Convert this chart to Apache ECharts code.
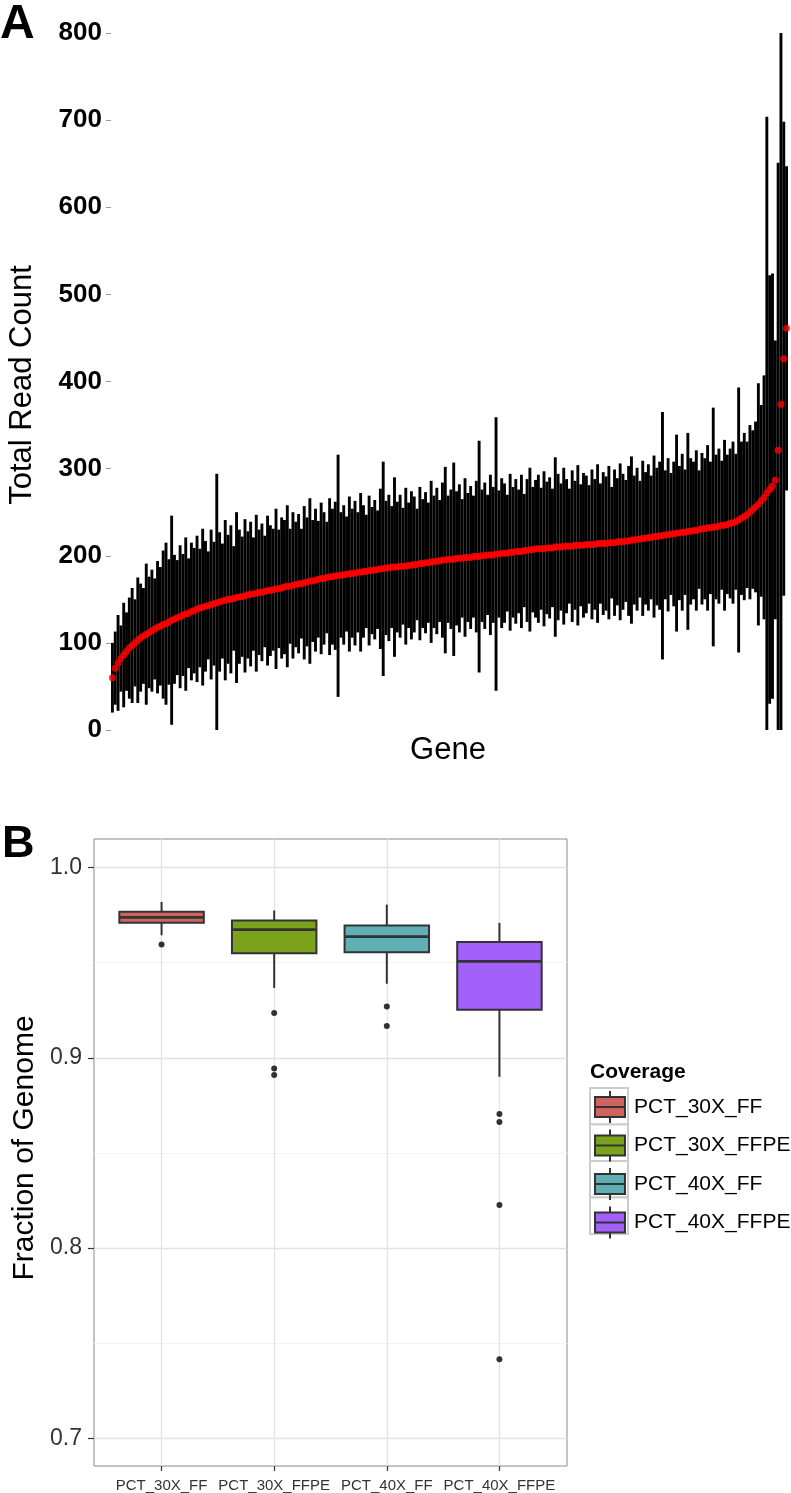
<!DOCTYPE html>
<html><head><meta charset="utf-8">
<script src="https://cdn.jsdelivr.net/npm/echarts@6/dist/echarts.min.js"></script>
<style>html,body{margin:0;padding:0;background:#fff}#c{width:791px;height:1493px}</style>
</head><body><div id="c"></div>
<script>
// ---------- Panel A data (genes sorted by mean total read count) ----------
const geneMeans = [
 60,71,77,82,86,90,94,97,100,103,106,
 108,110,112,114,116,118,119,121,122,124,
 126,127,129,130,132,133,134,136,137,139,
 140,141,142,143,144,145,146,147,148,149,
 150,150,151,152,153,153,154,155,156,156,
 157,158,158,159,160,160,161,162,162,163,
 164,165,165,166,167,168,168,169,170,171,
 171,172,173,174,174,175,176,176,177,177,
 178,178,179,179,180,180,181,181,182,182,
 183,183,184,184,185,185,186,186,187,187,
 187,188,188,188,189,189,190,190,191,191,
 192,192,193,193,194,194,195,195,196,196,
 196,197,197,197,198,198,198,199,199,199,
 200,200,201,201,201,202,202,203,203,203,
 204,204,205,205,205,206,206,207,207,208,
 208,208,208,209,209,209,210,210,210,211,
 211,211,211,212,212,212,212,213,213,213,
 213,214,214,214,214,215,215,215,216,216,
 216,217,217,218,218,219,219,220,220,221,
 221,222,222,223,223,224,224,225,225,226,
 226,227,227,228,228,229,229,230,231,231,
 232,232,233,233,234,235,235,236,237,238,
 239,241,243,245,247,250,253,256,259,263,267,
 272,276,280,287,321,374,426,461
];
const geneErrs = [
 40,42,55,38,60,45,58,66,50,72,62,
 55,81,64,70,58,76,68,85,93,72,
 120,74,66,82,70,88,63,79,72,84,
 68,90,75,62,86,71,148,80,66,92,
 74,85,60,98,77,69,88,73,83,65,
 90,72,79,64,86,75,70,92,68,81,
 77,93,66,84,72,80,63,88,74,95,
 70,82,67,87,76,64,90,78,85,139,
 72,80,66,89,74,83,69,91,76,65,
 86,73,80,68,92,123,77,84,70,103,
 75,82,67,90,72,85,78,64,88,74,
 81,69,93,76,84,70,89,107,73,80,
 111,77,85,68,91,74,82,70,87,133,
 76,84,69,92,78,157,73,86,80,67,
 90,75,83,71,88,65,82,94,72,79,
 85,70,89,76,81,68,103,84,73,90,
 77,66,87,74,92,70,83,79,68,86,
 75,91,69,82,77,88,64,84,73,90,
 78,70,86,96,74,82,67,89,76,84,
 71,93,79,85,142,74,88,70,83,113,
 77,90,72,113,84,79,92,68,87,81,
 95,76,137,83,89,74,98,80,86,93,
 78,152,88,96,84,100,91,98,139,110,140,
 432,246,244,160,330,426,272,186
];
const geneLabels = geneMeans.map((_, i) => 'Gene ' + (i + 1));

// ---------- Panel B data ----------
const coverageCats = ['PCT_30X_FF', 'PCT_30X_FFPE', 'PCT_40X_FF', 'PCT_40X_FFPE'];
// [lower whisker, Q1, median, Q3, upper whisker]
const box30xFF   = [0.9644, 0.9709, 0.9738, 0.9767, 0.9819];
const box30xFFPE = [0.9367, 0.9549, 0.9674, 0.9721, 0.9774];
const box40xFF   = [0.9389, 0.9554, 0.9637, 0.9695, 0.9805];
const box40xFFPE = [0.8900, 0.9253, 0.9507, 0.9609, 0.9709];
const out30xFF   = [0.9595];
const out30xFFPE = [0.9235, 0.8944, 0.8909];
const out40xFF   = [0.9270, 0.9167];
const out40xFFPE = [0.8704, 0.8663, 0.8226, 0.7416];
const fracTicks = [0.7, 0.8, 0.9, 1.0];
const fracMinorTicks = [0.75, 0.85, 0.95];
const coverageColors = ['#CF645E', '#7CA11C', '#60AFB5', '#A461FA'];

const FONT = "'Liberation Sans', Arial, Helvetica, sans-serif";
const boxes = [box30xFF, box30xFFPE, box40xFF, box40xFFPE];
const outs = [out30xFF, out30xFFPE, out40xFF, out40xFFPE];

const chart = echarts.init(document.getElementById('c'), null, {renderer: 'canvas'});

const boxSeries = coverageCats.map((name, k) => ({
  type: 'custom', name: name, xAxisIndex: 1, yAxisIndex: 1,
  itemStyle: {color: coverageColors[k]},
  data: [[k].concat(boxes[k])],
  z: 3,
  renderItem: function (params, api) {
    const x = api.value(0);
    const lo = api.coord([x, api.value(1)]);
    const q1 = api.coord([x, api.value(2)]);
    const md = api.coord([x, api.value(3)]);
    const q3 = api.coord([x, api.value(4)]);
    const hi = api.coord([x, api.value(5)]);
    const hw = api.size([0.75, 0])[0] / 2;
    const st = {stroke: '#333', lineWidth: 2};
    return {type: 'group', children: [
      {type: 'line', shape: {x1: hi[0], y1: hi[1], x2: q3[0], y2: q3[1]}, style: st},
      {type: 'line', shape: {x1: q1[0], y1: q1[1], x2: lo[0], y2: lo[1]}, style: st},
      {type: 'rect', shape: {x: q3[0] - hw, y: q3[1], width: hw * 2, height: q1[1] - q3[1]},
        style: {fill: coverageColors[k], stroke: '#333', lineWidth: 2}},
      {type: 'line', shape: {x1: md[0] - hw, y1: md[1], x2: md[0] + hw, y2: md[1]},
        style: {stroke: '#333', lineWidth: 2.8}}
    ]};
  }
}));

const outlierData = [];
outs.forEach((arr, k) => arr.forEach(v => outlierData.push([k, v])));

const keyRects = coverageCats.map((_, k) => ({
  type: 'rect', shape: {x: 590, y: 1088 + k * 36.5, width: 38, height: 36.5},
  style: {fill: '#fff', stroke: '#cccccc', lineWidth: 2}, z: 0
}));

const option = {
  animation: false,
  backgroundColor: '#fff',
  textStyle: {fontFamily: FONT},
  grid: [
    {left: 111, top: 33, width: 677, height: 697},
    {left: 94, top: 839, width: 473, height: 627, show: true, borderColor: '#8a8a8a', borderWidth: 1, backgroundColor: '#fff'}
  ],
  xAxis: [
    {type: 'category', gridIndex: 0, data: geneLabels, boundaryGap: true,
      axisLine: {show: false, onZero: false}, axisTick: {show: false}, axisLabel: {show: false}, splitLine: {show: false}},
    {type: 'value', gridIndex: 1, min: -0.6, max: 3.6,
      axisLine: {show: false, onZero: false},
      axisTick: {show: true, customValues: [0, 1, 2, 3], length: 5, lineStyle: {color: '#333', width: 1.2}},
      axisLabel: {customValues: [0, 1, 2, 3], formatter: v => coverageCats[Math.round(v)] || '',
        fontSize: 15, color: '#333', margin: 12, fontFamily: FONT},
      splitLine: {show: true, lineStyle: {color: '#e2e2e2', width: 1.3}}}
  ],
  yAxis: [
    {type: 'value', gridIndex: 0, min: 0, max: 800, interval: 100,
      axisLine: {show: false, onZero: false},
      axisTick: {show: true, length: 5, lineStyle: {color: '#999'}},
      axisLabel: {fontSize: 26, fontWeight: 'bold', color: '#000', margin: 9, fontFamily: FONT},
      splitLine: {show: false}},
    {type: 'value', gridIndex: 1, min: 0.68544, max: 1.01498,
      axisLine: {show: false, onZero: false},
      axisTick: {show: true, customValues: fracTicks, length: 6, lineStyle: {color: '#333', width: 1.2}},
      axisLabel: {customValues: fracTicks, formatter: v => v.toFixed(1), fontSize: 23, color: '#333', margin: 12, fontFamily: FONT},
      splitLine: {show: true, lineStyle: {color: '#e2e2e2', width: 1.3}}},
    {type: 'value', gridIndex: 1, min: 0.68544, max: 1.01498, position: 'left',
      axisLine: {show: false, onZero: false}, axisLabel: {show: false},
      axisTick: {show: false, customValues: fracMinorTicks},
      splitLine: {show: true, lineStyle: {color: '#f3f3f3', width: 1.2}}}
  ],
  legend: {
    data: coverageCats, orient: 'vertical', left: 594, top: 1090, padding: 0,
    itemWidth: 30, itemHeight: 32, itemGap: 4.5, selectedMode: false,
    icon: 'path://M15,0L15,6M0,6L30,6L30,26L0,26ZM0,16L30,16M15,26L15,32',
    itemStyle: {borderColor: '#333', borderWidth: 2},
    textStyle: {fontSize: 21, color: '#000', fontFamily: FONT, padding: [0, 0, 0, 4]}
  },
  graphic: keyRects.concat([
    {type: 'text', x: 0, y: 25, style: {text: 'A', font: 'bold 48px ' + FONT, fill: '#000', textAlign: 'left', textVerticalAlign: 'middle', align: 'left', verticalAlign: 'middle'}},
    {type: 'text', x: 2, y: 845, style: {text: 'B', font: 'bold 45px ' + FONT, fill: '#000', textAlign: 'left', textVerticalAlign: 'middle', align: 'left', verticalAlign: 'middle'}},
    {type: 'text', x: 22, y: 385, rotation: Math.PI / 2, style: {text: 'Total Read Count', font: '31px ' + FONT, fill: '#000', textAlign: 'center', textVerticalAlign: 'middle', align: 'center', verticalAlign: 'middle'}},
    {type: 'text', x: 448, y: 750, style: {text: 'Gene', font: '31px ' + FONT, fill: '#000', textAlign: 'center', textVerticalAlign: 'middle', align: 'center', verticalAlign: 'middle'}},
    {type: 'text', x: 25, y: 1148, rotation: Math.PI / 2, style: {text: 'Fraction of Genome', font: '30px ' + FONT, fill: '#000', textAlign: 'center', textVerticalAlign: 'middle', align: 'center', verticalAlign: 'middle'}},
    {type: 'text', x: 590, y: 1072, style: {text: 'Coverage', font: 'bold 21px ' + FONT, fill: '#000', textAlign: 'left', textVerticalAlign: 'middle', align: 'left', verticalAlign: 'middle'}}
  ]),
  series: [
    {type: 'custom', name: 'errors', xAxisIndex: 0, yAxisIndex: 0, clip: true, silent: true, z: 2,
      data: geneMeans.map((m, i) => [i, m, geneErrs[i]]),
      renderItem: function (params, api) {
        const x = api.value(0), m = api.value(1), e = api.value(2);
        const p1 = api.coord([x, m - e]);
        const p2 = api.coord([x, m + e]);
        return {type: 'line', shape: {x1: p1[0], y1: p1[1], x2: p2[0], y2: p2[1]},
          style: {stroke: '#000', lineWidth: 2.9}};
      }},
    {type: 'scatter', name: 'mean', xAxisIndex: 0, yAxisIndex: 0, silent: true, z: 4,
      symbolSize: 7, itemStyle: {color: '#ff0000'},
      data: geneMeans.map((m, i) => [i, m])}
  ].concat(boxSeries).concat([
    {type: 'scatter', name: 'outliers', xAxisIndex: 1, yAxisIndex: 1, silent: true, z: 5,
      symbolSize: 6, itemStyle: {color: '#000'}, data: outlierData}
  ])
};
chart.setOption(option);
</script></body></html>
